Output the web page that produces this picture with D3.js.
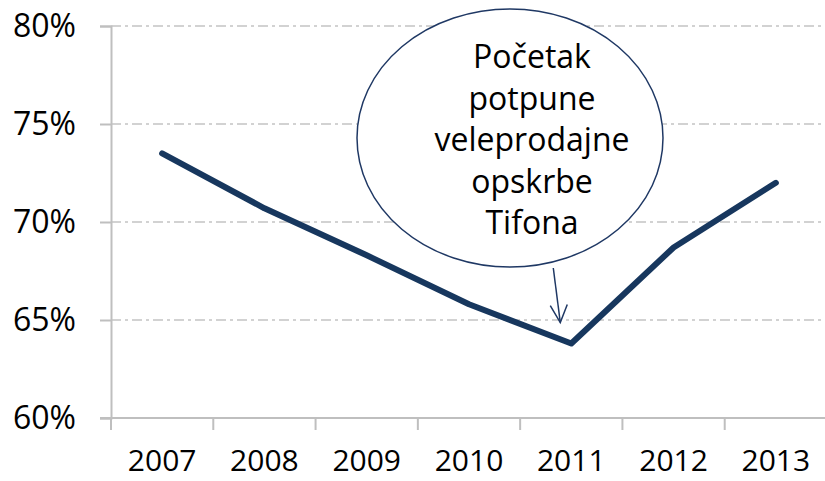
<!DOCTYPE html>
<html>
<head>
<meta charset="utf-8">
<script src="https://cdn.jsdelivr.net/npm/d3@7.9.0/dist/d3.min.js"></script>
<style>
  body { margin: 0; background: #fff; }
  svg text { font-family: "Open Sans", sans-serif; fill: #000; }
</style>
</head>
<body>
<svg width="825" height="481"></svg>
<script>
const years = ['2007', '2008', '2009', '2010', '2011', '2012', '2013'];
const shares = [73.5, 70.7, 68.3, 65.8, 63.8, 68.7, 72.0];
const yTicks = [60, 65, 70, 75, 80];
const noteLines = ['Početak', 'potpune', 'veleprodajne', 'opskrbe', 'Tifona'];
const noteYear = '2011';

const svg = d3.select('svg');
const x = d3.scaleBand().domain(years).range([111, 827]);
const y = d3.scaleLinear().domain([60, 80]).range([418, 26]);

// gridlines (dash-dot)
svg.append('g').selectAll('line')
  .data(yTicks.filter(d => d > 60))
  .join('line')
  .attr('x1', 111).attr('x2', 825)
  .attr('y1', d => y(d)).attr('y2', d => y(d))
  .attr('stroke', '#c3c3c3').attr('stroke-width', 1.5)
  .attr('stroke-dasharray', '10,4,3,4');

// y axis
const yAxis = svg.append('g').attr('transform', 'translate(111,0)')
  .call(d3.axisLeft(y).tickValues(yTicks).tickSize(11).tickPadding(24).tickFormat(d => d + '%'));
yAxis.select('.domain').attr('stroke', '#bfbfbf').attr('stroke-width', 2);
yAxis.selectAll('.tick line').attr('stroke', '#bfbfbf').attr('stroke-width', 2);
yAxis.selectAll('text').style('font-size', '32px');

// x axis, ticks between categories
const xAxis = svg.append('g').attr('transform', 'translate(0,418)');
xAxis.append('line').attr('x1', 100).attr('x2', 825)
  .attr('stroke', '#bfbfbf').attr('stroke-width', 2);
xAxis.selectAll('.tk').data(years).join('line')
  .attr('x1', d => x(d)).attr('x2', d => x(d))
  .attr('y1', 0).attr('y2', 12)
  .attr('stroke', '#bfbfbf').attr('stroke-width', 2);
xAxis.selectAll('text').data(years).join('text')
  .attr('x', d => x(d) + x.bandwidth() / 2)
  .attr('y', 53)
  .attr('text-anchor', 'middle')
  .style('font-size', '30px')
  .text(d => d);

// line
const line = d3.line()
  .x((d, i) => x(years[i]) + x.bandwidth() / 2)
  .y(d => y(d));
svg.append('path')
  .datum(shares)
  .attr('d', line)
  .attr('fill', 'none')
  .attr('stroke', '#17375e')
  .attr('stroke-width', 6)
  .attr('stroke-linecap', 'round')
  .attr('stroke-linejoin', 'round');

// callout
const cx = 510, cy = 138;
svg.append('ellipse')
  .attr('cx', cx).attr('cy', cy).attr('rx', 153).attr('ry', 129)
  .attr('fill', '#fff').attr('stroke', '#1f3864').attr('stroke-width', 1.5);

svg.append('text')
  .attr('text-anchor', 'middle')
  .style('font-size', '32px')
  .selectAll('tspan').data(noteLines).join('tspan')
  .attr('x', 532)
  .attr('y', (d, i) => 68 + i * 41.5)
  .text(d => d);

const ax = x(noteYear) + x.bandwidth() / 2 - 11;
const tipY = y(shares[years.indexOf(noteYear)]) - 21;
svg.append('line')
  .attr('x1', ax - 7).attr('y1', 268).attr('x2', ax).attr('y2', tipY)
  .attr('stroke', '#1f3864').attr('stroke-width', 1.5);
svg.append('path')
  .attr('d', `M${ax - 10},${tipY - 17} L${ax},${tipY} L${ax + 7},${tipY - 18}`)
  .attr('fill', 'none').attr('stroke', '#1f3864').attr('stroke-width', 1.5);
</script>
</body>
</html>
